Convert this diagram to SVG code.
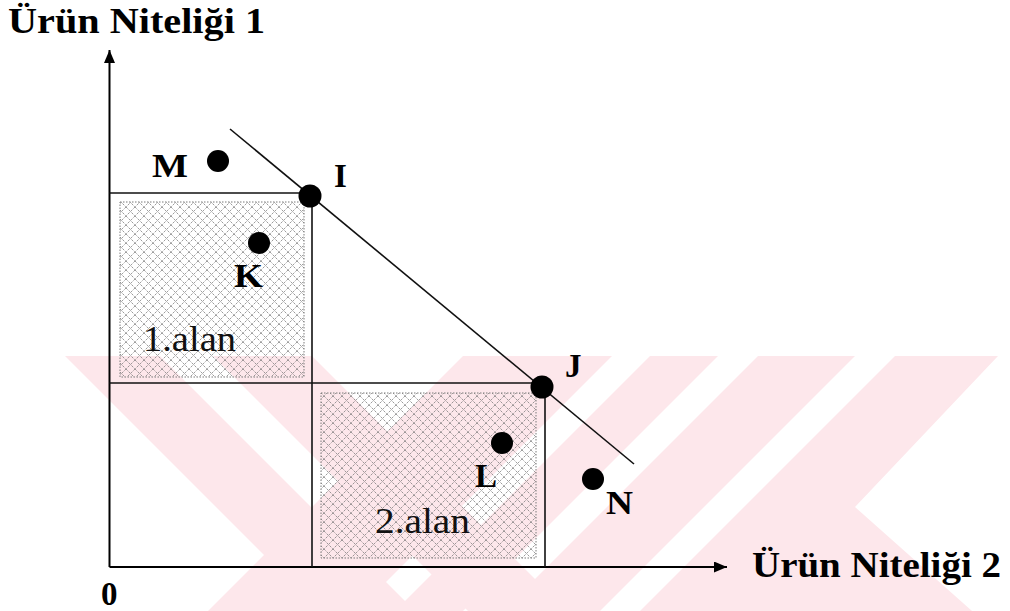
<svg xmlns="http://www.w3.org/2000/svg" width="1010" height="611" viewBox="0 0 1010 611">
<defs>
  <pattern id="hatch" width="9" height="9" patternUnits="userSpaceOnUse">
    <path d="M0 0 L9 9 M9 0 L0 9" stroke="#707070" stroke-width="0.9" stroke-dasharray="1.1 1.1" fill="none"/>
  </pattern>
  <marker id="arrow" viewBox="0 0 13 11" refX="13" refY="5.5" markerWidth="13" markerHeight="11" markerUnits="userSpaceOnUse" orient="auto">
    <path d="M0 0 L13 5.5 L0 11 Z" fill="#000"/>
  </marker>
</defs>
<style>
  .wm{fill:#fde7eb}
  .ax{stroke:#000;stroke-width:2;fill:none}
  .ln{stroke:#111;stroke-width:1.6;fill:none}
  .dot{fill:#000}
  .lbl{font-family:"Liberation Serif","Times New Roman",serif;font-weight:bold;font-size:33px;fill:#000}
  .ttl{font-family:"Liberation Serif","Times New Roman",serif;font-weight:bold;font-size:35px;fill:#000}
  .reg{font-family:"Liberation Serif","Times New Roman",serif;font-size:36px;fill:#111}
  .area{fill:url(#hatch);stroke:#7a7a7a;stroke-width:1;stroke-dasharray:1.5 1.5}
</style>
<rect width="1010" height="611" fill="#fff"/>
<g id="watermark">
  <polygon class="wm" points="65,356 160,356 415,611 320,611"/>
  <polygon class="wm" points="213,356 312,356 567,611 468,611"/>
  <polygon class="wm" points="463,356 612,356 357,611 208,611"/>
  <polygon class="wm" points="650,356 718,356 463,611 395,611"/>
  <polygon class="wm" points="758,356 855,356 600,611 503,611"/>
  <polygon class="wm" points="895,356 998,356 855,507 972,611 640,611"/>
</g>
<g id="area1">
  <rect class="area" x="120" y="202" width="184" height="175"/>
  <text class="reg" x="143" y="351" textLength="93" lengthAdjust="spacingAndGlyphs">1.alan</text>
</g>
<g id="area2">
  <rect class="area" x="321" y="393" width="215" height="165"/>
  <text class="reg" x="375" y="533" textLength="95" lengthAdjust="spacingAndGlyphs">2.alan</text>
</g>
<g id="connectors">
  <line class="ax" x1="109.5" y1="567" x2="109.5" y2="50" marker-end="url(#arrow)"/>
  <line class="ax" x1="109.5" y1="567" x2="727" y2="567" marker-end="url(#arrow)"/>
  <line class="ln" x1="109.5" y1="193" x2="312" y2="193"/>
  <line class="ln" x1="312" y1="193" x2="312" y2="567"/>
  <line class="ln" x1="109.5" y1="383" x2="542" y2="383"/>
  <line class="ln" x1="545" y1="383" x2="545" y2="567"/>
  <line class="ln" x1="230" y1="129" x2="634" y2="464"/>
</g>
<g id="axis-titles">
  <text class="ttl" x="8" y="33" textLength="257" lengthAdjust="spacingAndGlyphs">Ürün Niteliği 1</text>
  <text class="ttl" x="752" y="577" font-size="36" textLength="249" lengthAdjust="spacingAndGlyphs">Ürün Niteliği 2</text>
  <text class="lbl" x="101" y="605" font-size="35">0</text>
</g>
<g id="point-M">
  <circle class="dot" cx="218" cy="161" r="11"/>
  <text class="lbl" x="152" y="177" textLength="36" lengthAdjust="spacingAndGlyphs">M</text>
</g>
<g id="point-I">
  <circle class="dot" cx="310" cy="196" r="11.5"/>
  <text class="lbl" x="334" y="187">I</text>
</g>
<g id="point-K">
  <circle class="dot" cx="259" cy="243" r="11"/>
  <text class="lbl" x="234" y="287" textLength="29" lengthAdjust="spacingAndGlyphs">K</text>
</g>
<g id="point-J">
  <circle class="dot" cx="542" cy="387" r="11.5"/>
  <text class="lbl" x="565" y="377">J</text>
</g>
<g id="point-L">
  <circle class="dot" cx="502" cy="443" r="11"/>
  <text class="lbl" x="475" y="487">L</text>
</g>
<g id="point-N">
  <circle class="dot" cx="593" cy="479" r="11"/>
  <text class="lbl" x="606" y="514" textLength="27" lengthAdjust="spacingAndGlyphs">N</text>
</g>
</svg>
